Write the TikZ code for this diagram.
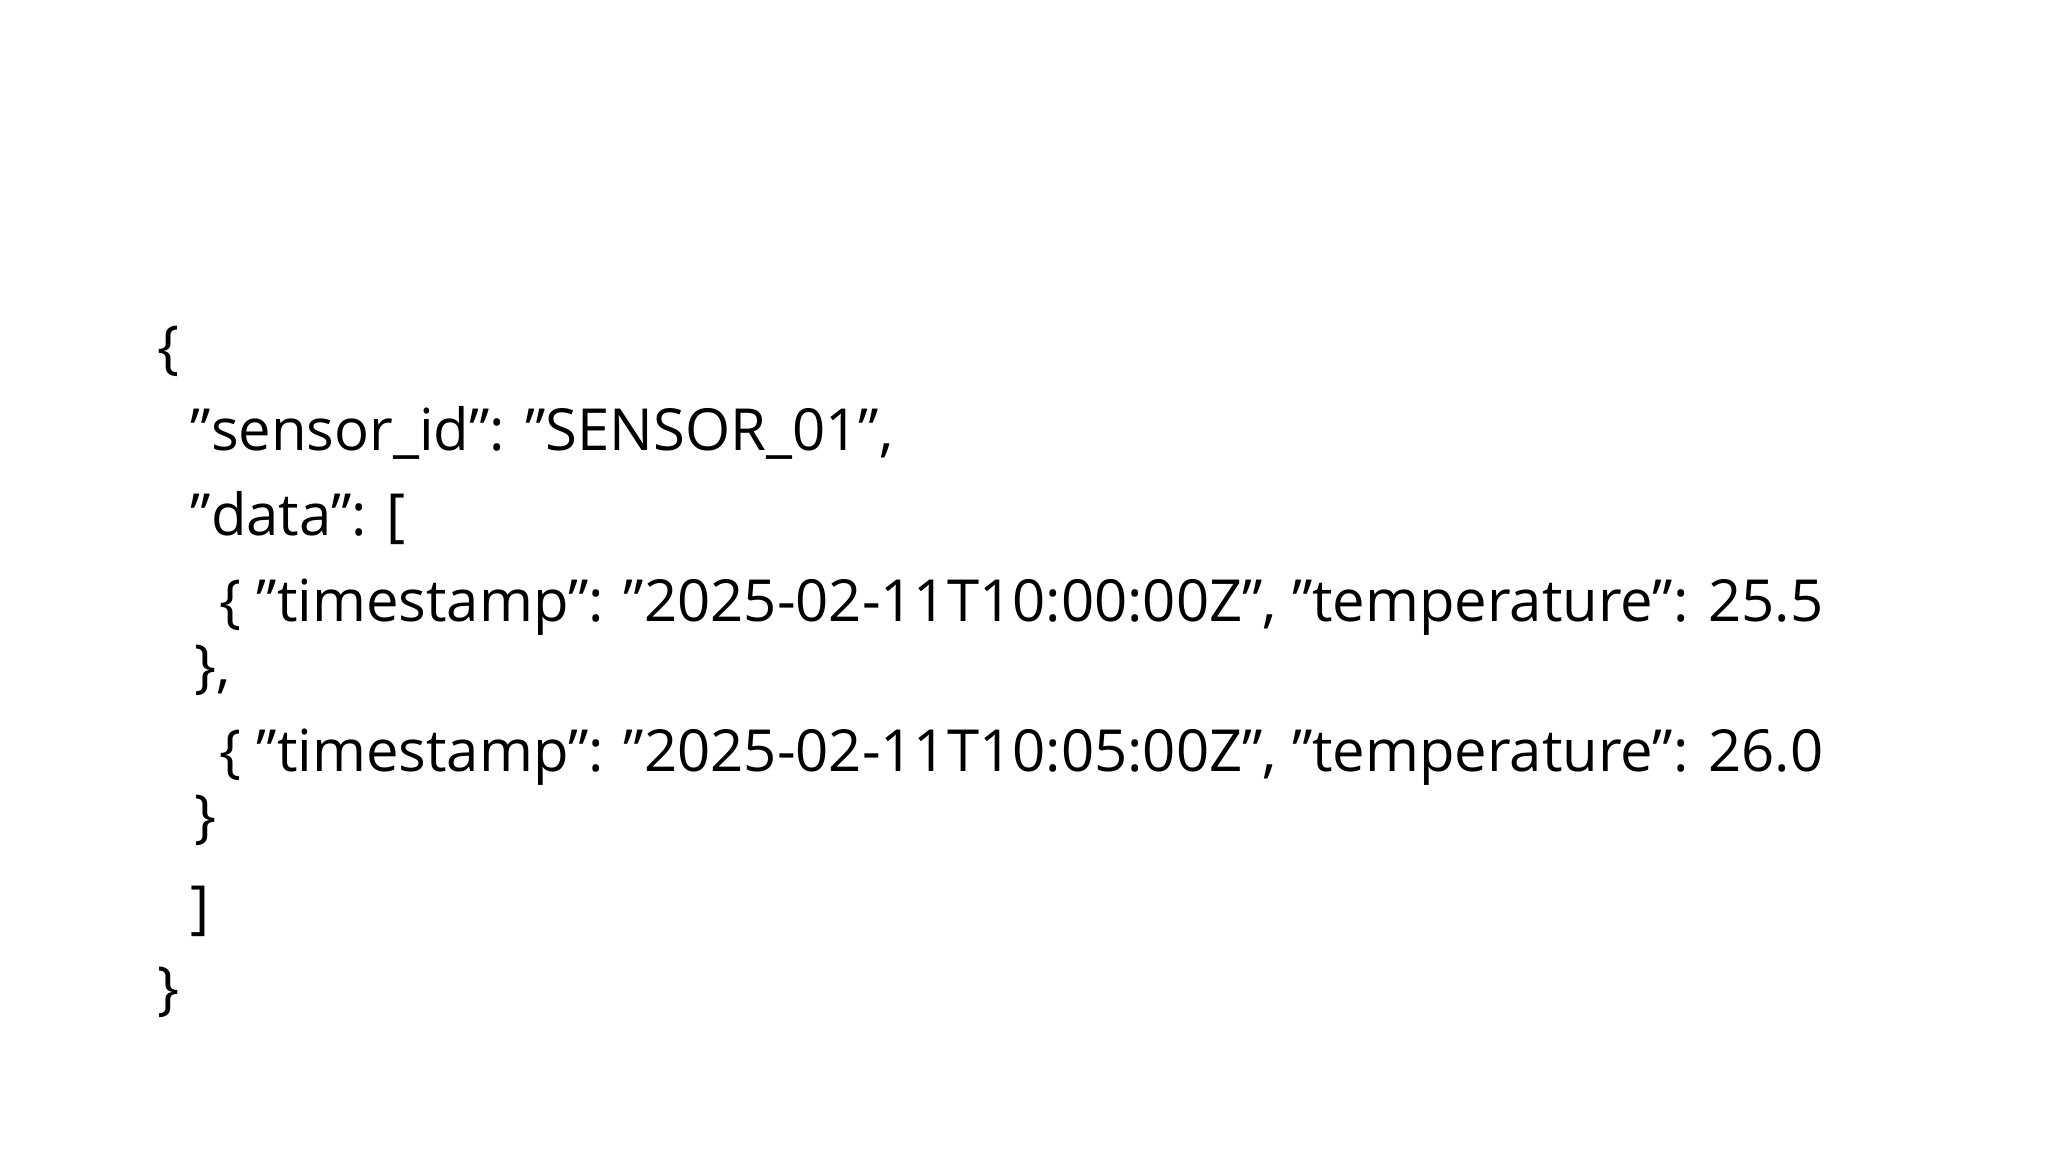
\documentclass[tikz,border=0pt]{standalone}
\usepackage{fontspec}
\setmainfont{Open Sans}
\def\qq{\symbol{34}}
\begin{document}
\begin{tikzpicture}[x=0.01cm,y=-0.01cm,
  jl/.style={anchor=base west,inner sep=0pt,font=\fontsize{16.5pt}{19pt}\selectfont}]
\useasboundingbox (0,0) rectangle (2048,1152);
\node[jl] (l1) at (157,368) {\{};
\node[jl] (l2) at (190,451) {\qq sensor\_id\qq: \qq SENSOR\_01\qq,};
\node[jl] (l3) at (190,535) {\qq data\qq: [};
\node[jl] (l4) at (219,622) {\{ \qq timestamp\qq: \qq 2025-02-11T10:00:00Z\qq, \qq temperature\qq: 25.5};
\node[jl] (l5) at (194,686) {\},};
\node[jl] (l6) at (219,771) {\{ \qq timestamp\qq: \qq 2025-02-11T10:05:00Z\qq, \qq temperature\qq: 26.0};
\node[jl] (l7) at (194,836) {\}};
\node[jl] (l8) at (190,927) {]};
\node[jl] (l9) at (157,1008) {\}};
\end{tikzpicture}
\end{document}
